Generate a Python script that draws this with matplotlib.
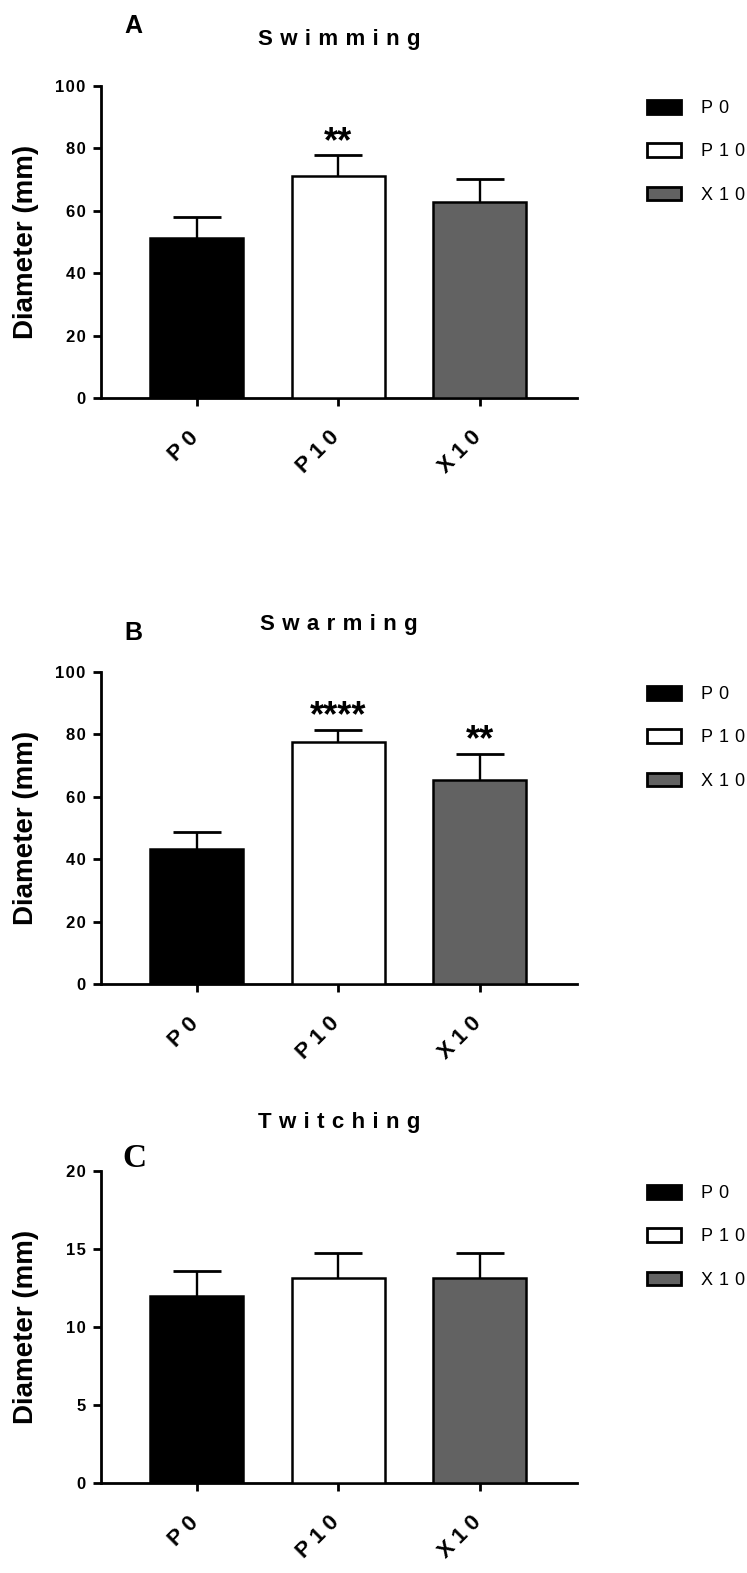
import matplotlib
matplotlib.use("Agg")
import numpy as np
import matplotlib.pyplot as plt
import matplotlib.transforms as mtransforms
from matplotlib.patches import Patch

plt.rcParams['font.family'] = ['Liberation Sans', 'DejaVu Sans']

groups = ["P0", "P10", "X10"]
colors = ["#000000", "#ffffff", "#626262"]

# Swimming motility
swim_mean = [51.4, 71.0, 62.8]
swim_err = [6.7, 6.8, 7.3]
swim_stars = ["", "**", ""]

# Swarming motility
swarm_mean = [43.4, 77.6, 65.3]
swarm_err = [5.2, 3.9, 8.5]
swarm_stars = ["", "****", "**"]

# Twitching motility
twitch_mean = [12.0, 13.15, 13.15]
twitch_err = [1.6, 1.6, 1.6]
twitch_stars = ["", "", ""]

big_ticks = [0, 20, 40, 60, 80, 100]
small_ticks = [0, 5, 10, 15, 20]


def spaced(s, sp="\u2004"):
    return sp.join(s)


W, H = 747, 1573


def panel_axes(top, bottom, left=101, right=577):
    return [left / W, (H - bottom) / H, (right - left) / W, (bottom - top) / H]


def draw_panel(ax, title, means, errs, stars, yticks, title_pad):
    x = np.arange(len(groups))
    ax.bar(x, means, width=0.657, color=colors, edgecolor="black",
           linewidth=1.8, zorder=3)
    eb = ax.errorbar(x, means, yerr=[np.zeros(len(means)), errs], fmt="none",
                     ecolor="black", elinewidth=1.7, capsize=17, capthick=2.0,
                     zorder=2)
    # keep only the upper caps
    for cap in eb[1]:
        if np.allclose(cap.get_ydata(), means):
            cap.set_visible(False)
    for xi, m, e, s in zip(x, means, errs, stars):
        if s:
            ax.annotate(s, (xi, m + e), xytext=(0, 2.5), textcoords="offset points",
                        ha="center", va="baseline", fontsize=26, fontweight="bold")

    ax.set_xlim(-0.678, 2.686)
    ax.set_ylim(yticks[0], yticks[-1])
    ax.set_yticks(yticks, labels=[spaced(str(t), "\u200a") for t in yticks])
    ax.set_xticks(x, labels=[spaced(g, "\u2005") for g in groups])
    ax.tick_params(axis="y", length=6, width=2, pad=5, labelsize=12)
    ax.tick_params(axis="x", length=6, width=2, pad=15, labelsize=16)

    # rotated group names, nudged right so they end under the ticks
    shift = mtransforms.ScaledTranslation(4 / 72, 0, ax.figure.dpi_scale_trans)
    for lab in ax.get_xticklabels():
        lab.set_rotation(45)
        lab.set_ha("right")
        lab.set_va("top")
        lab.set_transform(lab.get_transform() + shift)
    for lab in ax.get_yticklabels() + ax.get_xticklabels():
        lab.set_fontweight("bold")
    for side in ["top", "right"]:
        ax.spines[side].set_visible(False)
    for side in ["left", "bottom"]:
        ax.spines[side].set_linewidth(2.0)

    ax.set_title(spaced(title), fontsize=16, fontweight="bold", pad=title_pad)
    ax.set_ylabel("Diameter (mm)", fontsize=20, fontweight="bold", va="center")
    ax.yaxis.set_label_coords(-0.158, 0.5)

    handles = [Patch(facecolor=c, edgecolor="black", linewidth=2.0) for c in colors]
    ax.legend(handles, [spaced(g) for g in groups], loc="upper left",
              bbox_to_anchor=(1.147, 0.955), frameon=False, fontsize=13,
              handlelength=1.9, handleheight=0.78, handletextpad=1.1,
              labelspacing=1.45, borderpad=0, borderaxespad=0)


fig = plt.figure(figsize=(W / 100, H / 100), dpi=100)

ax_a = fig.add_axes(panel_axes(86, 398))
draw_panel(ax_a, "Swimming", swim_mean, swim_err, swim_stars, big_ticks, 29.5)

ax_b = fig.add_axes(panel_axes(672, 984))
draw_panel(ax_b, "Swarming", swarm_mean, swarm_err, swarm_stars, big_ticks, 30)

ax_c = fig.add_axes(panel_axes(1171, 1483))
draw_panel(ax_c, "Twitching", twitch_mean, twitch_err, twitch_stars, small_ticks, 31)

fig.text(124 / W, 1 - 33 / H, "A", fontsize=18, fontweight="bold", va="baseline")
fig.text(124 / W, 1 - 640 / H, "B", fontsize=18, fontweight="bold", va="baseline")
fig.text(122 / W, 1 - 1167 / H, "C", fontsize=24, fontweight="bold",
         family="Liberation Serif", va="baseline")

fig.savefig("out.png", dpi=100)
